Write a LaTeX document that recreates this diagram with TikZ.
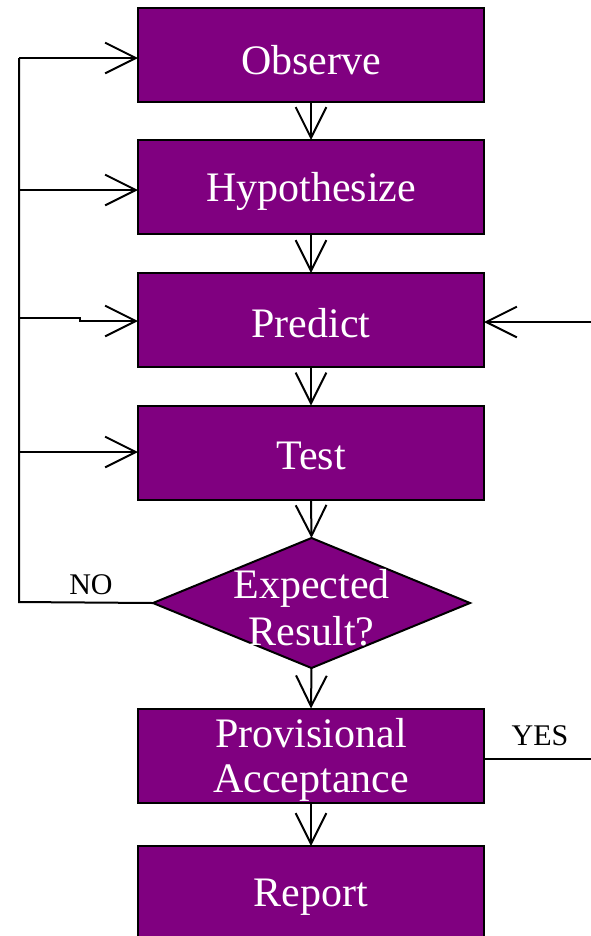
\documentclass[tikz,border=0pt]{standalone}
\usepackage{fontspec}
\setmainfont{Liberation Serif}
\usetikzlibrary{arrows.meta,shapes.geometric}
\definecolor{boxpurple}{HTML}{800080}
\begin{document}
\begin{tikzpicture}[x=0.75pt,y=-0.75pt,
  box/.style={draw=black,line width=1.5pt,fill=boxpurple,rectangle,
    minimum width=259.5pt,minimum height=70.5pt,inner sep=0pt,outer sep=0pt},
  boxtext/.style={text=white,font=\fontsize{31.5}{35}\selectfont,align=center,inner sep=0pt},
  lbl/.style={text=black,font=\fontsize{22.5}{26}\selectfont,inner sep=0pt},
  conn/.style={draw=black,line width=1.5pt},
  arr/.style={conn,-{Straight Barb[length=23pt,width=23pt,line width=1.5pt]}}]
\useasboundingbox (0,0) rectangle (591,936);
\clip (0,0) rectangle (591,936);
% boxes
\node[box] (obs) at (311,55) {};
\node[boxtext] at (311,60) {Observe};
\node[box] (hyp) at (311,187) {};
\node[boxtext] at (311,191) {Hypothesize};
\node[box] (pred) at (311,320) {};
\node[boxtext] at (311,323) {Predict};
\node[box] (test) at (311,452.5) {};
\node[boxtext] at (311,456) {Test};
\node[draw=black,line width=1.5pt,fill=boxpurple,shape=diamond,
  minimum width=237.75pt,minimum height=97.5pt,inner sep=0pt,outer sep=0pt] (dia) at (311.5,603) {};
\node[boxtext,font=\fontsize{31.5}{35.5}\selectfont] at (311.5,608) {Expected\\Result?};
\node[box] (prov) at (311,755.5) {};
\node[boxtext,font=\fontsize{31.5}{34}\selectfont] at (311,760) {Provisional\\Acceptance};
\node[box] (rep) at (311,893) {};
\node[boxtext] at (311,897) {Report};
% labels
\node[lbl] (no) at (91,585) {NO};
\node[lbl] (yes) at (540,736) {YES};
% coordinates
\coordinate (lb) at (19,602);
\coordinate (lo) at (19,58);
\coordinate (lh) at (19,190);
\coordinate (lp) at (19,318);
\coordinate (lpj) at (80,318);
\coordinate (lpk) at (80,321);
\coordinate (lt) at (19,452);
\coordinate (rin) at (591,322);
\coordinate (yend) at (591,759);
% vertical flow
\draw[arr] (obs.south) -- (hyp.north);
\draw[arr] (hyp.south) -- (pred.north);
\draw[arr] (pred.south) -- (test.north);
\draw[arr] (test.south) -- (dia.north);
\draw[arr] (dia.south) -- (prov.north);
\draw[arr] (prov.south) -- (rep.north);
% NO loop
\draw[conn] (dia.west) -- (lb) -- (lo);
\draw[arr] (lo) -- (obs.west |- lo);
\draw[arr] (lh) -- (hyp.west |- lh);
\draw[arr] (lp) -- (lpj) -- (lpk) -- (pred.west |- lpk);
\draw[arr] (lt) -- (test.west |- lt);
% right input
\draw[arr] (rin) -- (pred.east |- rin);
% YES
\draw[conn] (prov.east |- yend) -- (yend);
\end{tikzpicture}
\end{document}
